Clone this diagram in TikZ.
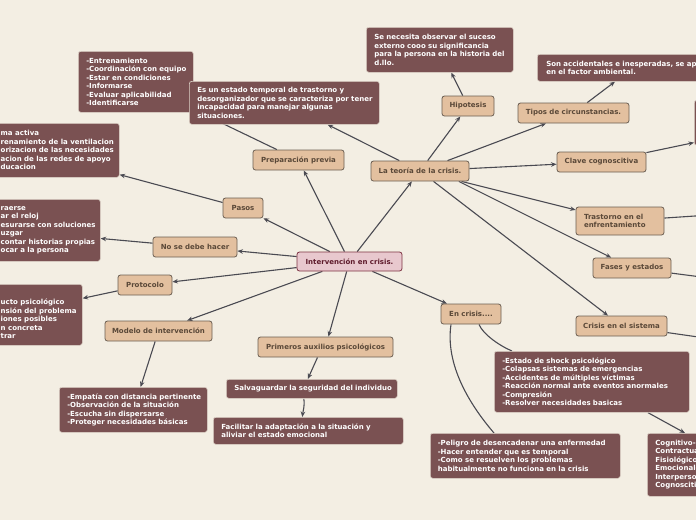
\documentclass[tikz,border=0pt]{standalone}
\usepackage{fontspec}
\newfontfamily\dv{DejaVu Sans}
\usetikzlibrary{arrows.meta}
\definecolor{bgc}{HTML}{F3EEE3}
\definecolor{darkf}{HTML}{7A5152}
\definecolor{darkd}{HTML}{DDD3C8}
\definecolor{tanf}{HTML}{E3C09F}
\definecolor{tand}{HTML}{6B5E52}
\definecolor{tant}{HTML}{5A4838}
\definecolor{ctrf}{HTML}{E8C8CE}
\definecolor{ctrd}{HTML}{7E3343}
\definecolor{ctrt}{HTML}{5E1B2B}
\definecolor{edgec}{HTML}{4A4A52}
\pgfdeclarelayer{bglayer}
\pgfdeclarelayer{edgelayer}
\pgfsetlayers{bglayer,edgelayer,main}
\newcommand\mfont{\dv\bfseries\fontsize{7pt}{8.5pt}\selectfont}
\tikzset{
 tannode/.style={draw=tand, fill=tanf, line width=0.8pt, rounded corners=2.5pt, text=tant, font=\mfont, minimum height=20pt, inner sep=2pt, align=center},
 ctrnode/.style={draw=ctrd, fill=ctrf, line width=0.8pt, rounded corners=2.5pt, text=ctrt, font=\mfont, inner sep=2pt, align=center},
 darkbox/.style={draw=darkd, fill=darkf, line width=0.6pt, rounded corners=2.5pt, text=white, font=\mfont, inner xsep=8pt, inner ysep=2pt, align=left, anchor=north west},
 cuttext/.style={text=white, font=\mfont, align=left, inner sep=0pt, anchor=west},
 conn/.style={draw=edgec, line width=1.1pt, -{Stealth[length=5.5pt,width=4.5pt]}},
 plainconn/.style={draw=edgec, line width=1.1pt},
}
\begin{document}
\begin{tikzpicture}[x=1pt,y=-1pt]
\useasboundingbox (0,0) rectangle (696,520);
\begin{pgfonlayer}{bglayer}
\fill[bgc] (0,0) rectangle (696,520);
\end{pgfonlayer}

% main topic nodes
\node[ctrnode, minimum width=105pt, minimum height=19pt] (ctr) at (349.5,261.5) {Intervención en crisis.};
\node[tannode, minimum width=91pt] (prep) at (298.5,160) {Preparación previa};
\node[tannode, minimum width=98pt] (teo) at (420,171) {La teoría de la crisis.};
\node[tannode, minimum width=40pt] (pasos) at (243,208) {Pasos};
\node[tannode, minimum width=84pt] (nodeb) at (195,247) {No se debe hacer};
\node[tannode, minimum width=54pt] (prot) at (145,285) {Protocolo};
\node[tannode, minimum width=107pt] (mod) at (158.5,331) {Modelo de intervención};
\node[tannode, minimum width=135pt] (prim) at (325.5,347) {Primeros auxilios psicológicos};
\node[tannode, minimum width=60pt] (encr) at (471,314) {En crisis....};
\node[tannode, minimum width=52pt] (hip) at (468,106) {Hipotesis};
\node[tannode, minimum width=111pt] (tipos) at (573.5,113) {Tipos de circunstancias.};
\node[tannode, minimum width=89pt] (clave) at (601.5,162) {Clave cognoscitiva};
\node[tannode, text width=72pt, inner xsep=8pt, minimum height=28pt, align=left] (tras) at (620,221) {Trastorno en el\\enfrentamiento};
\node[tannode, minimum width=78pt] (fases) at (632,268) {Fases y estados};
\node[tannode, minimum width=91pt] (csis) at (621.5,326) {Crisis en el sistema};

% dark boxes
\node[darkbox, text width=99pt, minimum height=61pt] (entr) at (78,51) {-Entrenamiento\\\mbox{-Coordinación con equipo}\\-Estar en condiciones\\-Informarse\\-Evaluar aplicabilidad\\-Identificarse};
\node[darkbox, text width=174pt, minimum height=43pt] (est) at (189,81) {Es un estado temporal de trastorno y\\\mbox{desorganizador que se caracteriza por tener}\\incapacidad para manejar algunas\\situaciones.};
\node[darkbox, text width=131pt, minimum height=45pt] (nec) at (366,27) {Se necesita observar el suceso\\externo cooo su significancia\\\mbox{para la persona en la historia del}\\d.llo.};
\node[darkbox, text width=230pt, inner xsep=9pt, minimum height=27pt] (son) at (537,54) {Son accidentales e inesperadas, se ap\\en el factor ambiental.};
\node[darkbox, minimum width=100pt, minimum height=45pt] (rbox) at (694,100) {};
\node[darkbox, text width=132pt, minimum height=45pt] (emp) at (59,387) {\mbox{-Empatía con distancia pertinente}\\-Observación de la situación\\-Escucha sin dispersarse\\-Proteger necesidades básicas};
\node[darkbox, text width=155pt, minimum height=19pt] (salv) at (226,379) {\mbox{Salvaguardar la seguridad del individuo}};
\node[darkbox, text width=174pt, minimum height=27pt] (faci) at (213,417) {\mbox{Facilitar la adaptación a la situación y}\\aliviar el estado emocional};
\node[darkbox, text width=179pt, minimum height=61pt] (shock) at (494,351) {-Estado de shock psicológico\\-Colapsas sistemas de emergencias\\-Accidentes de múltiples víctimas\\\mbox{-Reacción normal ante eventos anormales}\\-Compresión\\-Resolver necesidades basicas};
\node[darkbox, text width=175pt, inner xsep=7.5pt, minimum height=45pt] (pel) at (430,433) {\mbox{-Peligro de desencadenar una enfermedad}\\-Hacer entender que es temporal\\-Como se resuelven los problemas\\\mbox{habitualmente no funciona en la crisis}};
\node[darkbox, text width=90pt, inner xsep=8pt, minimum height=63pt] (cog) at (647,433) {Cognitivo-\\Contractua\\Fisiológico\\Emocional-\\Interperso\\Cognoscitiv};

% boxes cut by the left edge
\node[darkbox, minimum width=180pt, minimum height=54pt] (esc) at (-61,123) {};
\node[cuttext] (esct) at (0.5,150) {ma activa\\renamiento de la ventilacion\\orizacion de las necesidades\\acion de las redes de apoyo\\ducacion};
\node[darkbox, minimum width=180pt, minimum height=62pt] (nsh) at (-80,199) {};
\node[cuttext] (nsht) at (0.5,230.5) {raerse\\ar el reloj\\esurarse con soluciones\\uzgar\\contar historias propias\\ocar a la persona};
\node[darkbox, minimum width=154pt, minimum height=61pt] (pro) at (-72,284) {};
\node[cuttext] (prot2) at (0.5,319) {ucto psicológico\\nsión del problema\\iones posibles\\n concreta\\trar};

\coordinate (offa) at (740,213);
\coordinate (offb) at (740,282);
\coordinate (offc) at (740,343);

\begin{pgfonlayer}{edgelayer}
\draw[conn] (ctr) -- (prep);
\draw[conn] (ctr) -- (teo);
\draw[conn] (ctr) -- (pasos);
\draw[conn] (ctr) -- (nodeb);
\draw[conn] (ctr) -- (prot);
\draw[conn] (ctr) -- (mod);
\draw[conn] (ctr) -- (prim);
\draw[conn] (ctr) -- (encr);
\draw[conn] (teo) -- (hip);
\draw[conn] (teo) -- (tipos);
\draw[conn] (teo) -- (clave);
\draw[conn] (teo) -- (tras);
\draw[conn] (teo.-15) -- (fases);
\draw[conn] (teo) -- (csis);
\draw[conn] (teo) -- (est);
\draw[conn] (prep) -- (entr);
\draw[conn] (pasos) -- (esc);
\draw[conn] (nodeb) -- (nsh);
\draw[conn] (prot) -- (pro);
\draw[conn] (mod) -- (emp);
\draw[conn] ([xshift=-8pt]prim.south) -- ([xshift=-4pt]salv.north);
\draw[conn] ([xshift=-8pt]salv.south) .. controls +(1,8) and +(1,-8) .. ([xshift=-6pt]faci.north);
\draw[conn] (hip) -- (nec);
\draw[conn] (tipos) -- ([xshift=78pt]son.south west);
\draw[conn] (clave) -- ([yshift=3pt]rbox.south west);
\draw[conn] (shock) -- ([xshift=38pt]cog.north west);
\draw[conn] (tras) -- (offa);
\draw[conn] (fases) -- (offb);
\draw[conn] (csis) -- (offc);
\draw[plainconn] ([xshift=8pt]encr.south) .. controls +(4,10) and +(-12,-5) .. ([xshift=18pt]shock.north west);
\draw[plainconn] ([xshift=-20pt]encr.south) .. controls (445,365) and (470,405) .. ([xshift=64pt]pel.north west);
\end{pgfonlayer}
\end{tikzpicture}
\end{document}
